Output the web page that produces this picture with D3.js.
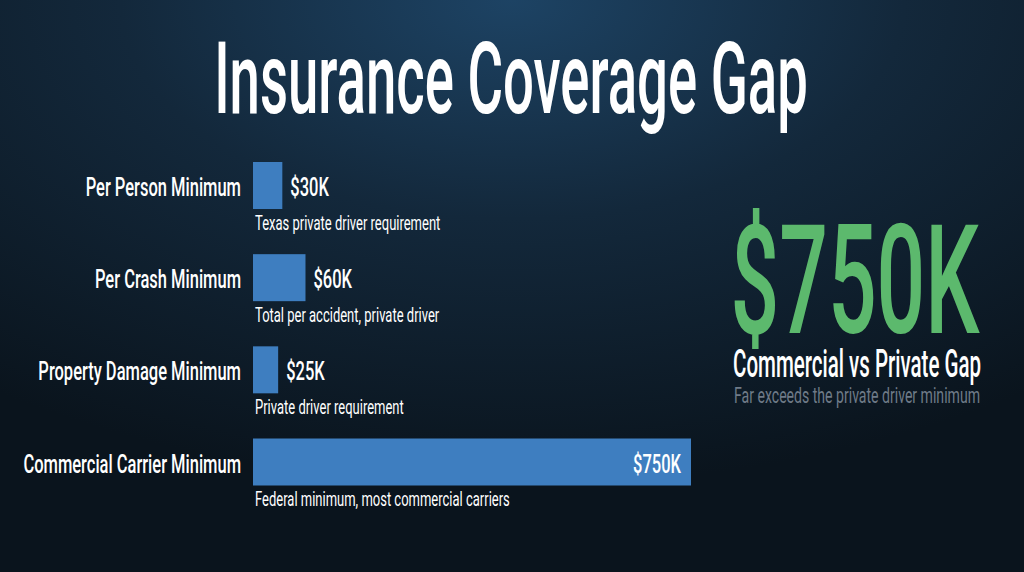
<!DOCTYPE html>
<html>
<head>
<meta charset="utf-8">
<script src="https://cdn.jsdelivr.net/npm/d3@7"></script>
<style>
  html, body { margin: 0; padding: 0; background: #0b1620; }
  svg { display: block; font-family: Roboto, "Liberation Sans", sans-serif; font-weight: 500; }
</style>
</head>
<body>
<script>
var categories = ["Per Person Minimum", "Per Crash Minimum", "Property Damage Minimum", "Commercial Carrier Minimum"];
var values = [30, 60, 25, 750];            // thousands of dollars
var valueLabels = ["$30K", "$60K", "$25K", "$750K"];
var notes = ["Texas private driver requirement", "Total per accident, private driver",
             "Private driver requirement", "Federal minimum, most commercial carriers"];

var w = 1024;
var h = 572;
var barH = 47;

var svg = d3.select("body")
            .append("svg")
            .attr("width", w)
            .attr("height", h);

var defs = svg.append("defs");
var grad = defs.append("radialGradient")
               .attr("id", "bg")
               .attr("cx", "50%").attr("cy", "0%")
               .attr("r", "85%")
               .attr("fx", "50%").attr("fy", "0%");
grad.append("stop").attr("offset", "0%").attr("stop-color", "#1d4364");
grad.append("stop").attr("offset", "45%").attr("stop-color", "#13283b");
grad.append("stop").attr("offset", "100%").attr("stop-color", "#0a141d");

svg.append("rect")
   .attr("width", w)
   .attr("height", h)
   .attr("fill", "url(#bg)");

// condensed look: place text at (px,py) and squeeze it horizontally by k
function place(px, py, k) {
  return "translate(" + px + "," + py + ") scale(" + k + ",1)";
}

svg.append("text")
   .attr("transform", place(511, 113, 0.545))
   .attr("text-anchor", "middle")
   .attr("fill", "#ffffff")
   .attr("font-size", 100)
   .text("Insurance Coverage Gap");

var x = d3.scalePow()
          .exponent(0.84)
          .domain([0, 750])
          .range([253, 691]);

var y = d3.scalePoint()
          .domain(categories)
          .range([185.5, 462]);

var rows = svg.selectAll("g.row")
              .data(categories)
              .enter()
              .append("g")
              .attr("class", "row");

rows.append("rect")
    .attr("x", x(0))
    .attr("y", function(d){ return y(d) - barH / 2; })
    .attr("width", function(d, i){ return x(values[i]) - x(0); })
    .attr("height", barH)
    .attr("fill", "#3e7ec0");

rows.append("text")
    .attr("transform", function(d){ return place(241, y(d) + 10.5, 0.66); })
    .attr("text-anchor", "end")
    .attr("fill", "#ffffff")
    .attr("font-size", 25)
    .text(function(d){ return d; });

rows.append("text")
    .attr("transform", function(d, i){
      var px = values[i] > 300 ? x(values[i]) - 10 : x(values[i]) + 8;
      return place(px, y(d) + 10.5, 0.66);
    })
    .attr("text-anchor", function(d, i){ return values[i] > 300 ? "end" : "start"; })
    .attr("fill", "#ffffff")
    .attr("font-size", 25)
    .text(function(d, i){ return valueLabels[i]; });

rows.append("text")
    .attr("transform", function(d){ return place(255, y(d) + 44, 0.65); })
    .attr("fill", "#ffffff")
    .attr("font-size", 20)
    .attr("font-weight", 400)
    .text(function(d, i){ return notes[i]; });

// callout on the right
svg.append("text")
   .attr("transform", place(855, 333, 0.56))
   .attr("text-anchor", "middle")
   .attr("fill", "#5cb96d")
   .attr("font-size", 153)
   .text("$750K");

svg.append("text")
   .attr("transform", place(857, 377, 0.54))
   .attr("text-anchor", "middle")
   .attr("fill", "#ffffff")
   .attr("font-size", 38)
   .text("Commercial vs Private Gap");

svg.append("text")
   .attr("transform", place(857, 403, 0.64))
   .attr("text-anchor", "middle")
   .attr("fill", "#6f7b88")
   .attr("font-size", 22)
   .attr("font-weight", 400)
   .text("Far exceeds the private driver minimum");
</script>
</body>
</html>
